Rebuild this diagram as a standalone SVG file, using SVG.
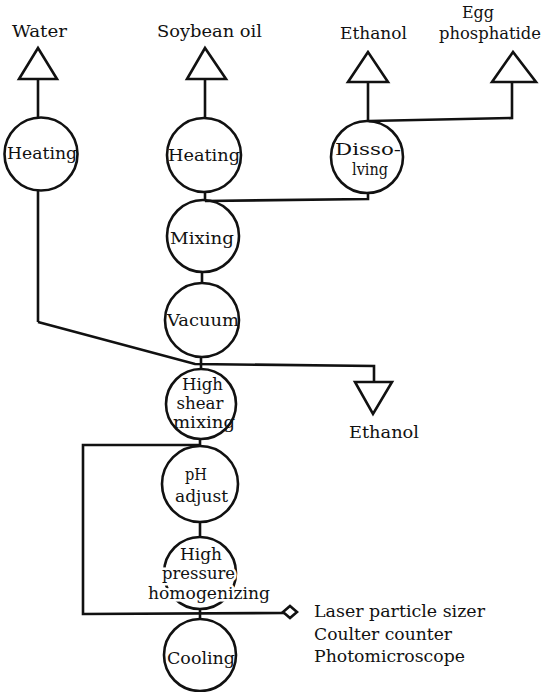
<svg xmlns="http://www.w3.org/2000/svg" width="544" height="692" viewBox="0 0 544 692">
<style>
.bg{fill:#fff}
.c{fill:none;stroke:#111;stroke-width:2.6}
.l{fill:none;stroke:#111;stroke-width:2.6;stroke-linejoin:miter}
.t{fill:none;stroke:#111;stroke-width:2.6;stroke-linejoin:miter}
text{font-family:"DejaVu Serif","Liberation Serif",serif;font-size:17px;fill:#111;text-anchor:middle}
.lt{text-anchor:start}
.halo{stroke:#fff;stroke-width:5;paint-order:stroke;stroke-linejoin:round}
</style>
<rect class="bg" x="0" y="0" width="544" height="692"/>
<g id="connectors">
<line class="l" x1="38" y1="79" x2="38" y2="118"/>
<line class="l" x1="205" y1="79" x2="205" y2="118"/>
<line class="l" x1="368" y1="82" x2="368" y2="121"/>
<polyline class="l" points="512,82 512,118 369,121"/>
<polyline class="l" points="368,193 368,199 205,201"/>
<line class="l" x1="205" y1="192" x2="205" y2="200"/>
<line class="l" x1="202" y1="272" x2="202" y2="283"/>
<polyline class="l" points="38,190 38,322"/>
<path class="l" d="M38,322 Q150,352 195,364 L374,366 L374,382"/>
<line class="l" x1="201" y1="357" x2="201" y2="369"/>
<line class="l" x1="200" y1="439" x2="200" y2="446"/>
<polyline class="l" points="199,445 83,445 83,614 285,613"/>
<line class="l" x1="200" y1="522" x2="200" y2="537"/>
<line class="l" x1="200" y1="609" x2="200" y2="619"/>
<polygon class="t" points="290,606 297,612 290,618 283,612" fill="#fff"/>
</g>
<g id="src-water">
<polygon class="t" points="38,48 19,79 57,79"/>
<text x="39.5" y="37" textLength="55" lengthAdjust="spacingAndGlyphs">Water</text>
</g>
<g id="src-soybean">
<polygon class="t" points="205,48 187,79 226,79"/>
<text x="209.5" y="37" textLength="105" lengthAdjust="spacingAndGlyphs">Soybean oil</text>
</g>
<g id="src-ethanol">
<polygon class="t" points="368,52 348,82 388,82"/>
<text x="373.5" y="39" textLength="67" lengthAdjust="spacingAndGlyphs">Ethanol</text>
</g>
<g id="src-egg">
<polygon class="t" points="513,52 492,82 536,82"/>
<text x="478" y="18" textLength="32" lengthAdjust="spacingAndGlyphs">Egg</text>
<text x="490" y="39" textLength="102" lengthAdjust="spacingAndGlyphs">phosphatide</text>
</g>
<g id="heating-water">
<circle class="c" cx="41" cy="154" r="36.5"/>
<text x="42" y="159" textLength="70" lengthAdjust="spacingAndGlyphs">Heating</text>
</g>
<g id="heating-oil">
<circle class="c" cx="204" cy="155" r="37"/>
<text x="204" y="161" textLength="72" lengthAdjust="spacingAndGlyphs">Heating</text>
</g>
<g id="dissolving">
<circle class="c" cx="367" cy="157" r="36"/>
<text x="368" y="155" textLength="66" lengthAdjust="spacingAndGlyphs">Disso-</text>
<text x="370" y="175" textLength="36" lengthAdjust="spacingAndGlyphs">lving</text>
</g>
<g id="mixing">
<circle class="c" cx="203" cy="236" r="36"/>
<text x="202" y="244" textLength="64" lengthAdjust="spacingAndGlyphs">Mixing</text>
</g>
<g id="vacuum">
<circle class="c" cx="202" cy="320" r="37"/>
<text x="203" y="326" textLength="72" lengthAdjust="spacingAndGlyphs">Vacuum</text>
</g>
<g id="high-shear">
<circle class="c" cx="201" cy="404" r="35"/>
<text x="202.5" y="390" textLength="41" lengthAdjust="spacingAndGlyphs">High</text>
<text x="200" y="409" textLength="47" lengthAdjust="spacingAndGlyphs">shear</text>
<text x="204" y="428" textLength="62" lengthAdjust="spacingAndGlyphs">mixing</text>
</g>
<g id="ph-adjust">
<circle class="c" cx="200" cy="484" r="38"/>
<text x="196" y="480" textLength="22" lengthAdjust="spacingAndGlyphs">pH</text>
<text x="201.5" y="502" textLength="53" lengthAdjust="spacingAndGlyphs">adjust</text>
</g>
<g id="homogenizing">
<circle class="c" cx="200" cy="573" r="36"/>
<text class="halo" x="201" y="560" textLength="42" lengthAdjust="spacingAndGlyphs">High</text>
<text class="halo" x="198.5" y="579" textLength="73" lengthAdjust="spacingAndGlyphs">pressure</text>
<text class="halo" x="209" y="599" textLength="122" lengthAdjust="spacingAndGlyphs">homogenizing</text>
</g>
<g id="cooling">
<circle class="c" cx="200" cy="655" r="36"/>
<text x="201" y="664" textLength="68" lengthAdjust="spacingAndGlyphs">Cooling</text>
</g>
<g id="ethanol-out">
<polygon class="t" points="355,382 392,382 373,414"/>
<text x="384" y="438" textLength="70" lengthAdjust="spacingAndGlyphs">Ethanol</text>
</g>
<g id="measurement">
<text class="lt" x="314" y="617" textLength="171" lengthAdjust="spacingAndGlyphs">Laser particle sizer</text>
<text class="lt" x="314" y="640" textLength="138" lengthAdjust="spacingAndGlyphs">Coulter counter</text>
<text class="lt" x="314" y="662" textLength="151" lengthAdjust="spacingAndGlyphs">Photomicroscope</text>
</g>
</svg>
